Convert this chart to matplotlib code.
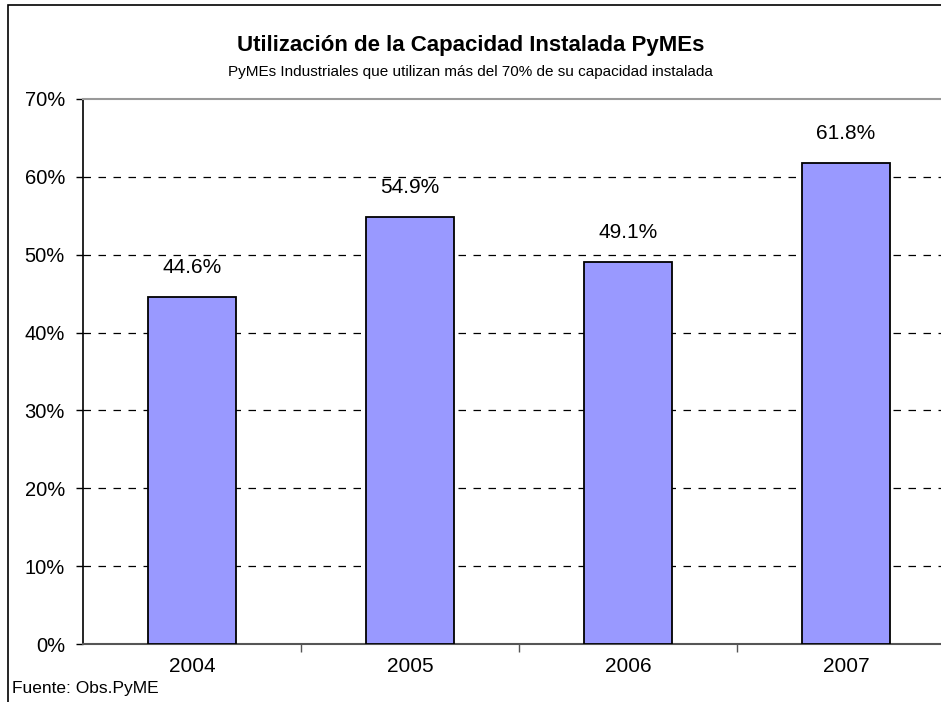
import numpy as np
import matplotlib.pyplot as plt
from matplotlib.patches import Rectangle

years = ['2004', '2005', '2006', '2007']
valores = [44.6, 54.9, 49.1, 61.8]
etiquetas = ['44.6%', '54.9%', '49.1%', '61.8%']
yticks = [0, 10, 20, 30, 40, 50, 60, 70]

plt.rcParams['font.family'] = ['Liberation Sans', 'DejaVu Sans']

W, H = 941, 702
fig = plt.figure(figsize=(W / 100, H / 100), dpi=100)

# borde del grafico (se sale por la derecha y abajo)
fig.patches.append(Rectangle((8 / W, -0.05), 1.2, 1 - 5 / H + 0.05,
                             transform=fig.transFigure, fill=False,
                             edgecolor='black', linewidth=1.2))

# area de trazado: ancho de categoria 218 px, se corta a la derecha
ax = fig.add_axes([83 / W, 1 - 644 / H, 872 / W, 545 / H])

x = np.arange(len(years))
ax.bar(x, valores, width=0.40, color='#9999FF', edgecolor='black',
       linewidth=1.3, zorder=3)

for xi, v, lab in zip(x, valores, etiquetas):
    ax.annotate(lab, (xi, v), xytext=(0, 21), textcoords='offset points',
                ha='center', va='center', fontsize=15)

ax.set_xlim(-0.5, 3.5)
ax.set_ylim(0, 70)
ax.set_yticks(yticks)
ax.set_yticklabels([f'{t}%' for t in yticks], fontsize=14.5)
ax.set_xticks([0.5, 1.5, 2.5])
ax.set_xticklabels([])
ax.set_xticks(x, minor=True)
ax.set_xticklabels(years, minor=True, fontsize=15)
ax.tick_params(axis='x', which='minor', length=0, pad=9)
ax.tick_params(axis='x', which='major', length=6, width=1, color='#555555')
ax.tick_params(axis='y', length=5, width=1, pad=8)

for t in yticks[1:-1]:
    ax.axhline(t, color='black', linestyle=(0, (6, 6)), linewidth=0.9, zorder=1)

ax.spines['top'].set_color('#999999')
ax.spines['top'].set_linewidth(1.5)
ax.spines['right'].set_visible(False)
ax.spines['left'].set_color('black')
ax.spines['left'].set_linewidth(1.2)
ax.spines['bottom'].set_color('#555555')
ax.spines['bottom'].set_linewidth(1.5)

fig.text(0.5, 1 - 45 / H, 'Utilización de la Capacidad Instalada PyMEs',
         ha='center', va='center', fontsize=16, fontweight='bold')
fig.text(0.5, 1 - 72 / H,
         'PyMEs Industriales que utilizan más del 70% de su capacidad instalada',
         ha='center', va='center', fontsize=11)
fig.text(12 / W, 1 - 689 / H, 'Fuente: Obs.PyME', ha='left', va='center',
         fontsize=12.5)

fig.savefig('out.png', dpi=100)
